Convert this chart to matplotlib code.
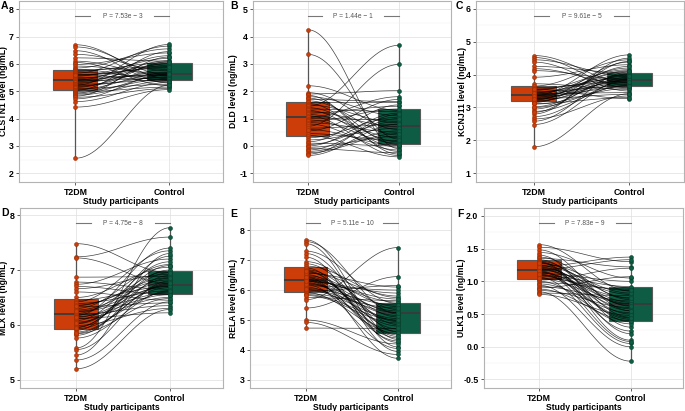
import numpy as np
import matplotlib
matplotlib.use("Agg")
import matplotlib.pyplot as plt
from matplotlib.collections import LineCollection

plt.rcParams['font.family'] = ['Liberation Sans', 'DejaVu Sans']
plt.rcParams['axes.unicode_minus'] = False

groups = ["T2DM", "Control"]

# ---- panel A : CLSTN1 ----
clstn1_t2dm = [6.70, 6.62, 6.48, 6.35, 6.22, 6.10, 6.05, 5.98, 5.92, 5.85, 5.80, 5.78, 5.74, 5.70, 5.66, 5.62,
               5.58, 5.55, 5.50, 5.46, 5.43, 5.40, 5.38, 5.35, 5.32, 5.28, 5.25, 5.22, 5.20, 5.17, 5.14, 5.10,
               5.06, 5.03, 5.00, 4.97, 4.93, 4.90, 4.86, 4.82, 4.78, 4.72, 4.62, 4.42, 2.55, 5.60]
clstn1_ctrl = [5.45, 5.60, 5.30, 5.75, 6.10, 5.55, 5.20, 6.40, 5.65, 6.55, 5.40, 5.90, 6.05, 5.50, 6.65, 5.35,
               5.85, 6.20, 5.58, 6.00, 5.62, 6.30, 5.48, 5.95, 5.70, 6.12, 5.42, 6.71, 5.52, 5.80, 6.02, 5.25,
               5.68, 6.45, 5.44, 5.15, 6.08, 5.58, 5.38, 6.25, 5.10, 5.64, 5.32, 5.06, 5.22, 5.88]
clstn1_box = [(5.03, 5.40, 5.78), (5.42, 5.63, 6.03)]   # q1, median, q3

# ---- panel B : DLD ----
dld_t2dm = [4.25, 3.35, 2.20, 1.95, 1.90, 1.85, 1.80, 1.75, 1.70, 1.65, 1.60, 1.55, 1.50, 1.45, 1.40, 1.35,
            1.30, 1.25, 1.20, 1.15, 1.10, 1.05, 1.00, 0.95, 0.90, 0.85, 0.80, 0.72, 0.65, 0.55, 0.45, 0.38,
            0.30, 0.22, 0.15, 0.10, 0.05, 0.00, -0.05, -0.10, -0.15, -0.20, -0.25, -0.30, -0.35, 0.60]
dld_ctrl = [-0.10, 0.25, 1.30, 0.60, 2.02, -0.30, 1.10, 0.05, 1.62, 0.40, 1.60, -0.20, 0.85, 3.68, 0.15, 1.25,
            -0.05, 0.70, 1.45, 0.30, -0.35, 1.80, 0.95, 0.10, 1.35, 0.50, -0.15, 2.98, 0.78, 1.70, 0.20, -0.40,
            1.05, 0.65, 1.50, 0.00, 0.90, 1.20, 0.35, -0.25, 1.00, 0.55, 0.45, 1.15, 0.80, 0.02]
dld_box = [(0.37, 1.05, 1.60), (0.08, 0.72, 1.34)]

# ---- panel C : KCNJ11 ----
kcnj11_t2dm = [4.58, 4.52, 4.45, 4.38, 4.25, 4.18, 4.12, 3.92, 3.72, 3.65, 3.60, 3.56, 3.52, 3.48, 3.45, 3.42,
               3.40, 3.38, 3.36, 3.34, 3.32, 3.30, 3.28, 3.26, 3.24, 3.22, 3.20, 3.18, 3.15, 3.10, 3.02, 2.95,
               2.88, 2.80, 2.72, 2.65, 2.58, 2.48, 1.80, 3.55, 3.44, 3.35, 3.27, 3.12, 3.00, 2.85]
kcnj11_ctrl = [3.75, 3.60, 3.95, 3.50, 4.05, 3.70, 3.85, 4.30, 3.55, 4.45, 3.80, 3.90, 4.15, 3.65, 4.00, 3.45,
               4.20, 3.78, 4.60, 3.88, 3.62, 4.10, 3.83, 3.40, 3.98, 4.38, 3.72, 3.85, 4.25, 3.58, 3.92, 4.02,
               3.68, 4.50, 3.82, 3.35, 4.08, 3.87, 3.42, 3.27, 3.95, 4.12, 3.76, 3.30, 3.66, 4.40]
kcnj11_box = [(3.20, 3.37, 3.65), (3.65, 3.83, 4.05)]

# ---- panel D : MLX ----
mlx_t2dm = [7.48, 7.24, 7.22, 6.87, 6.78, 6.74, 6.70, 6.66, 6.60, 6.50, 6.45, 6.42, 6.39, 6.36, 6.33, 6.30,
            6.27, 6.24, 6.21, 6.19, 6.17, 6.14, 6.11, 6.08, 6.05, 6.02, 5.99, 5.96, 5.93, 5.90, 5.87, 5.84,
            5.81, 5.76, 5.58, 5.55, 5.45, 5.36, 5.20, 6.12, 6.03, 6.25, 5.95, 6.15, 6.35, 5.85]
mlx_ctrl = [6.95, 7.60, 6.75, 6.88, 6.65, 7.20, 6.55, 6.92, 6.45, 7.05, 6.70, 7.35, 6.62, 6.82, 6.40, 7.10,
            6.78, 6.58, 6.98, 6.35, 7.40, 6.72, 6.50, 7.15, 6.68, 6.85, 6.30, 7.00, 6.60, 7.25, 6.74, 6.48,
            6.90, 6.62, 7.77, 6.80, 7.30, 6.42, 6.28, 6.22, 6.95, 6.70, 7.08, 6.55, 6.86, 6.76]
mlx_box = [(5.93, 6.20, 6.47), (6.57, 6.73, 6.98)]

# ---- panel E : RELA ----
rela_t2dm = [7.68, 7.62, 7.55, 7.30, 7.22, 7.10, 6.95, 6.88, 6.80, 6.74, 6.68, 6.62, 6.56, 6.52, 6.48, 6.44,
             6.40, 6.37, 6.34, 6.31, 6.28, 6.25, 6.22, 6.18, 6.14, 6.10, 6.05, 6.00, 5.96, 5.92, 5.88, 5.82,
             5.75, 5.68, 5.40, 5.00, 4.92, 4.73, 6.58, 6.35, 6.20, 6.45, 6.02, 6.65, 5.85, 6.30]
rela_ctrl = [4.35, 5.20, 4.10, 5.55, 4.60, 3.95, 5.35, 4.85, 5.75, 4.25, 5.10, 4.50, 6.10, 4.70, 5.45, 3.72,
             5.25, 4.95, 5.60, 4.40, 5.90, 4.80, 5.30, 4.05, 6.00, 4.62, 5.50, 5.05, 6.15, 4.55, 5.40, 4.90,
             5.65, 7.42, 6.45, 4.20, 3.85, 4.72, 5.80, 4.30, 5.15, 4.98, 5.25, 4.45, 5.00, 5.70]
rela_box = [(5.95, 6.34, 6.76), (4.58, 5.24, 5.56)]

# ---- panel F : ULK1 ----
ulk1_t2dm = [1.56, 1.52, 1.48, 1.44, 1.40, 1.37, 1.35, 1.33, 1.31, 1.29, 1.27, 1.25, 1.23, 1.21, 1.19, 1.17,
             1.16, 1.14, 1.12, 1.10, 1.08, 1.06, 1.04, 1.02, 1.00, 0.98, 0.96, 0.94, 0.92, 0.90, 0.88, 0.86,
             0.84, 0.82, 0.80, 1.18, 1.24, 1.13, 1.30, 1.09, 1.20, 1.28, 1.15, 1.05, 1.11, 1.22]
ulk1_ctrl = [0.85, 1.30, 0.55, 1.05, 0.30, 0.72, 1.22, 0.45, 0.62, 0.10, 0.90, 0.38, 1.37, 0.68, 0.50, 0.80,
             0.24, 0.58, 1.00, 0.42, 0.75, 0.05, 0.65, 1.20, 0.35, 0.88, 0.52, 0.00, 0.70, 1.07, 0.40, 0.60,
             -0.22, 0.78, 0.48, 1.33, 0.82, 0.66, 0.20, 0.92, 0.55, 0.74, 0.08, 0.86, 0.44, 0.63]
ulk1_box = [(1.04, 1.17, 1.33), (0.39, 0.65, 0.92)]

panels = [
    ("A", "CLSTN1 level (ng/mL)", clstn1_t2dm, clstn1_ctrl, clstn1_box, "P = 7.53e \u2212 3", (1.68, 8.30), np.arange(2, 9, 1)),
    ("B", "DLD level (ng/mL)", dld_t2dm, dld_ctrl, dld_box, "P = 1.44e \u2212 1", (-1.32, 5.30), np.arange(-1, 6, 1)),
    ("C", "KCNJ11 level (ng/mL)", kcnj11_t2dm, kcnj11_ctrl, kcnj11_box, "P = 9.61e \u2212 5", (0.73, 6.24), np.arange(1, 7, 1)),
    ("D", "MLX level (ng/mL)", mlx_t2dm, mlx_ctrl, mlx_box, "P = 4.75e \u2212 8", (4.85, 8.13), np.arange(5, 9, 1)),
    ("E", "RELA level (ng/mL)", rela_t2dm, rela_ctrl, rela_box, "P = 5.11e \u2212 10", (2.73, 8.74), np.arange(3, 9, 1)),
    ("F", "ULK1 level (ng/mL)", ulk1_t2dm, ulk1_ctrl, ulk1_box, "P = 7.83e \u2212 9", (-0.63, 2.12), np.arange(-0.5, 2.01, 0.5)),
]

# axes boxes in pixels: left, top, right, bottom
W, H = 685, 411
boxes_px = [(19, 1, 223, 182), (253, 1, 451, 182), (476, 1, 684, 182),
            (20, 208, 223, 388), (250, 208, 451, 388), (484, 208, 683, 388)]
letter_px = [(1, 1), (230, 1), (456, 1), (1, 208), (230, 209), (457, 209)]
ylabel_px = [8.5, 238, 467, 8.5, 238.5, 465.5]   # right edge of the rotated y label

fills = ["#CC3D0A", "#0D5C43"]
edges = ["#9E2C00", "#083F2D"]

fig = plt.figure(figsize=(W / 100, H / 100), dpi=100)

for (letter, ylab, t2dm, ctrl, box, ptxt, ylim, yt), (l, t, r, b), (lx, ly), yl_x in zip(panels, boxes_px, letter_px, ylabel_px):
    ax = fig.add_axes([l / W, 1 - b / H, (r - l) / W, (b - t) / H])
    t2dm = np.array(t2dm)
    ctrl = np.array(ctrl)

    stats = []
    for vals, (q1, med, q3) in zip([t2dm, ctrl], box):
        stats.append(dict(med=med, q1=q1, q3=q3, whislo=vals.min(), whishi=vals.max(), fliers=[]))
    bp = ax.bxp(stats, positions=[0, 1], widths=0.47, patch_artist=True, showcaps=False,
                showfliers=False, zorder=1,
                boxprops=dict(edgecolor="#5A5A5A", linewidth=0.8),
                whiskerprops=dict(color="#555555", linewidth=0.9),
                medianprops=dict(color="#3A3A3A", linewidth=1.3))
    for patch, c in zip(bp["boxes"], fills):
        patch.set_facecolor(c)

    # sigmoid connecting curves
    tt = np.linspace(0, 1, 40)
    s = (1 - np.cos(np.pi * tt)) / 2
    segs = [np.column_stack([tt, y1 + (y2 - y1) * s]) for y1, y2 in zip(t2dm, ctrl)]
    ax.add_collection(LineCollection(segs, colors="black", linewidths=0.5, alpha=0.75, zorder=2))

    ax.scatter(np.zeros(len(t2dm)), t2dm, s=8, color=fills[0], edgecolor=edges[0], linewidth=0.4, zorder=3)
    ax.scatter(np.ones(len(ctrl)), ctrl, s=8, color=fills[1], edgecolor=edges[1], linewidth=0.4, zorder=3)

    # p-value annotation
    tr = ax.get_xaxis_transform()
    ax.plot([0.0, 0.16], [0.915, 0.915], color="#777777", lw=0.8, transform=tr)
    ax.plot([0.84, 1.0], [0.915, 0.915], color="#777777", lw=0.8, transform=tr)
    ax.text(0.5, 0.915, ptxt, transform=tr, ha="center", va="center", fontsize=4.8, color="#555555")

    ax.set_xlim(-0.6, 1.57)
    ax.set_ylim(*ylim)
    ax.set_xticks([0, 1])
    ax.set_xticklabels(groups, fontsize=6.3, fontweight="bold")
    ax.set_yticks(yt)
    if letter == "F":
        ax.set_yticklabels(["%.1f" % v for v in yt])
    ax.set_yticks(yt[:-1] + (yt[1] - yt[0]) / 2, minor=True)
    ax.tick_params(axis="y", which="minor", length=0)
    ax.tick_params(axis="both", which="major", length=2.5, width=0.6, color="#444444", pad=1.5,
                   labelsize=6.3)
    for lab in ax.get_yticklabels():
        lab.set_fontweight("bold")
    ax.grid(True, which="major", color="#DEDEDE", linewidth=0.5)
    ax.grid(True, which="minor", axis="y", color="#EFEFEF", linewidth=0.35)
    ax.set_axisbelow(True)
    for sp in ax.spines.values():
        sp.set_color("#B3B3B3")
        sp.set_linewidth(0.8)
    ax.set_xlabel("Study participants", fontsize=6.2, fontweight="bold", labelpad=0.5)
    ax.set_ylabel(ylab, fontsize=6.2, fontweight="bold")
    ax.yaxis.set_label_coords((yl_x - l) / (r - l), 0.5)

    fig.text(lx / W, 1 - ly / H, letter, fontsize=7.5, fontweight="bold", ha="left", va="top")

fig.savefig("out.png", dpi=100)
